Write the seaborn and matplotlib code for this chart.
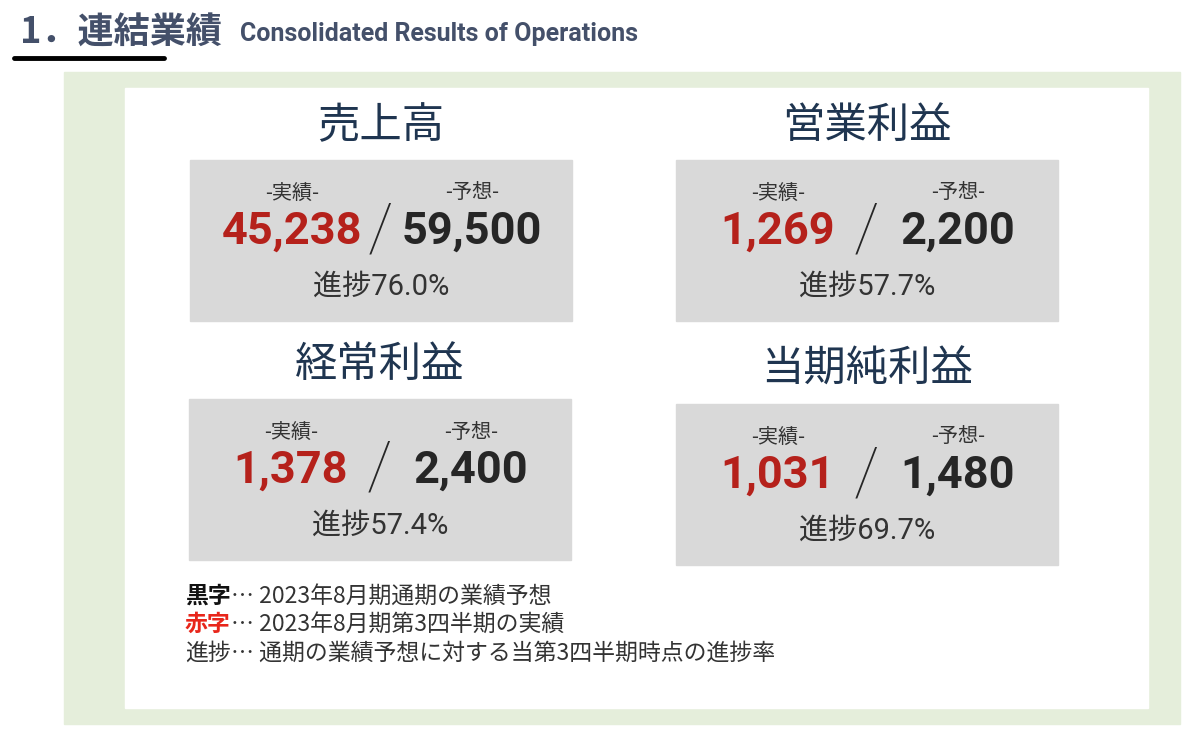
import matplotlib
matplotlib.use("Agg")
import matplotlib.pyplot as plt
from matplotlib.patches import Rectangle
import seaborn as sns

# KPI data (百万円)
titles = ["売上高", "営業利益", "経常利益", "当期純利益"]
actual = [45238, 1269, 1378, 1031]
forecast = [59500, 2200, 2400, 1480]
progress = [76.0, 57.7, 57.4, 69.7]

notes_head = ["黒字", "赤字", "進捗"]
notes_body = ["… 2023年8月期通期の業績予想",
              "… 2023年8月期第3四半期の実績",
              "… 通期の業績予想に対する当第3四半期時点の進捗率"]

sns.set_theme(style="white")
plt.rcParams['font.family'] = ['Noto Sans CJK JP', 'DejaVu Sans']

JP = ['Noto Sans CJK JP', 'DejaVu Sans']
NUM = ['Roboto', 'Noto Sans CJK JP']
RED = "#b5211b"
DARK = "#262626"
NAVY = "#1f3550"
GRAY_BOX = "#d9d9d9"

fig = plt.figure(figsize=(12, 7.38), dpi=100)
ax = fig.add_axes([0, 0, 1, 1])
ax.set_xlim(0, 1200)
ax.set_ylim(738, 0)
ax.axis("off")

# header
ax.text(20, 33, "1．連結業績", fontsize=26, fontweight="bold", color="#44506a",
        family=JP, va="center", ha="left")
ax.text(240, 34, "Consolidated Results of Operations", fontsize=18,
        fontweight="bold", color="#44506a", family=['Roboto', 'DejaVu Sans'],
        va="center", ha="left")
ax.plot([14, 164], [58, 58], color="black", lw=3.5, solid_capstyle="round")

# background panels
ax.add_patch(Rectangle((64, 72), 1116, 652, color="#e5eedb", zorder=0))
ax.add_patch(Rectangle((125, 88), 1023, 620, color="white", zorder=1))

box_w, box_h = 382, 161
box_pos = [(190, 160), (676, 160), (189, 399), (676, 404)]

for i, (bx, by) in enumerate(box_pos):
    ax.add_patch(Rectangle((bx, by), box_w, box_h, color=GRAY_BOX, zorder=2))
    cx = bx + box_w / 2
    ax.text(cx, by - 34, titles[i], fontsize=30.5, color=NAVY, family=JP,
            ha="center", va="center", zorder=3)
    ax.text(bx + 102, by + 33, "-実績-", fontsize=14.5, color="#333333",
            family=JP, ha="center", va="center", zorder=3)
    ax.text(bx + 282, by + 33, "-予想-", fontsize=14.5, color="#333333",
            family=JP, ha="center", va="center", zorder=3)
    ax.text(bx + 102, by + 72, f"{actual[i]:,}", fontsize=32.5, fontweight="bold",
            color=RED, family=NUM, ha="center", va="center", zorder=3)
    ax.text(bx + 282, by + 72, f"{forecast[i]:,}", fontsize=32.5, fontweight="bold",
            color=DARK, family=NUM, ha="center", va="center", zorder=3)
    ax.text(bx + 190, by + 72, "/", fontsize=48, fontweight="light",
            color=DARK, family=['Roboto', 'DejaVu Sans'], ha="center",
            va="center", zorder=3)
    ax.text(cx, by + 127, f"進捗{progress[i]:.1f}%", fontsize=21, color="#333333",
            family=NUM, ha="center", va="center", zorder=3)

# footnotes
note_colors = ["#111111", "#e8261b", "#333333"]
note_weights = ["bold", "bold", "normal"]
for j, (h, b) in enumerate(zip(notes_head, notes_body)):
    y = 596 + j * 28.5
    t = ax.text(185, y, h, fontsize=16.5, color=note_colors[j],
                fontweight=note_weights[j], family=JP, ha="left", va="center",
                zorder=3)
    ax.annotate(b, xycoords=t, xy=(1, 0.5), va="center", ha="left",
                fontsize=16.5, color="#333333", family=JP, zorder=3)

fig.savefig("out.png", dpi=100)
